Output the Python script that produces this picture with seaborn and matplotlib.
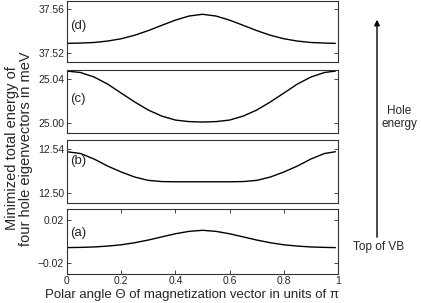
import seaborn as sns
import matplotlib.pyplot as plt
import pandas as pd

# polar angle in units of pi
theta = [0.00, 0.05, 0.10, 0.15, 0.20, 0.25, 0.30, 0.35, 0.40, 0.45, 0.50,
         0.55, 0.60, 0.65, 0.70, 0.75, 0.80, 0.85, 0.90, 0.95, 0.99]

# minimized total energies (meV)
e_a = [-0.0055, -0.0053, -0.0049, -0.0041, -0.0029, -0.0010, 0.0015, 0.0044, 0.0073, 0.0095, 0.0105,
       0.0095, 0.0073, 0.0044, 0.0015, -0.0010, -0.0029, -0.0041, -0.0049, -0.0053, -0.0055]
e_b = [12.5378, 12.5362, 12.5312, 12.5248, 12.5194, 12.5148, 12.5118, 12.5107, 12.5105, 12.5105, 12.5105,
       12.5105, 12.5105, 12.5107, 12.5118, 12.5148, 12.5194, 12.5248, 12.5312, 12.5362, 12.5378]
e_c = [25.0475, 25.0462, 25.0421, 25.0357, 25.0275, 25.0194, 25.0121, 25.0066, 25.0030, 25.0016, 25.0012,
       25.0016, 25.0030, 25.0066, 25.0121, 25.0194, 25.0275, 25.0357, 25.0421, 25.0462, 25.0475]
e_d = [37.5291, 37.5294, 37.5299, 37.5312, 37.5333, 37.5365, 37.5407, 37.5455, 37.5502, 37.5539, 37.5555,
       37.5539, 37.5502, 37.5455, 37.5407, 37.5365, 37.5333, 37.5312, 37.5299, 37.5294, 37.5291]

panel_labels = ["(a)", "(b)", "(c)", "(d)"]
yticks = [[-0.02, 0.02], [12.50, 12.54], [25.00, 25.04], [37.52, 37.56]]
ytick_labels = [["\u22120.02", "0.02"], ["12.50", "12.54"], ["25.00", "25.04"], ["37.52", "37.56"]]
ylims = [(-0.0299, 0.0299), (12.4915, 12.5482), (24.9915, 25.0482), (37.5121, 37.5675)]
xticks = [0, 0.2, 0.4, 0.6, 0.8, 1]
xtick_labels = ["0", "0.2", "0.4", "0.6", "0.8", "1"]

sns.set_style("white")
plt.rcParams["font.family"] = ["Liberation Sans", "DejaVu Sans"]

fig = plt.figure(figsize=(4.21, 3.03), dpi=100)

# axes boxes (left, bottom, width, height) in figure fraction
boxes = [(0.159, 0.0957, 0.644, 0.2135),
         (0.159, 0.331, 0.644, 0.206),
         (0.159, 0.562, 0.644, 0.206),
         (0.159, 0.795, 0.644, 0.2015)]
label_y = [0.63, 0.67, 0.54, 0.59]

series = [e_a, e_b, e_c, e_d]
for i, (box, vals) in enumerate(zip(boxes, series)):
    ax = fig.add_axes(box)
    df = pd.DataFrame({"theta": theta, "E": vals})
    sns.lineplot(data=df, x="theta", y="E", ax=ax, color="black", linewidth=1.0)
    ax.set_xlim(0, 1)
    ax.set_ylim(*ylims[i])
    ax.set_yticks(yticks[i])
    ax.set_yticklabels(ytick_labels[i], fontsize=7.5)
    ax.set_xlabel("")
    ax.set_ylabel("")
    ax.tick_params(axis="y", direction="in", length=3, width=0.6, right=True, left=True, pad=2)
    if i == 0:
        ax.set_xticks(xticks)
        ax.set_xticklabels(xtick_labels, fontsize=7.5)
        ax.tick_params(axis="x", direction="in", length=3, width=0.6, top=True, bottom=True, pad=1.5)
    else:
        ax.set_xticks([])
    for sp in ax.spines.values():
        sp.set_visible(True)
        sp.set_color("#333333")
        sp.set_linewidth(0.8)
    ax.text(0.012, label_y[i], panel_labels[i], transform=ax.transAxes,
            fontsize=9.5, va="center", ha="left")

fig.text(0.457, 0.008, "Polar angle \u0398 of magnetization vector in units of \u03c0",
         ha="center", va="bottom", fontsize=9.5)
fig.text(0.045, 0.51, "Minimized total energy of\nfour hole eigenvectors in meV",
         ha="center", va="center", rotation=90, fontsize=10.5, linespacing=1.05)

# energy arrow on the right
fig.add_artist(plt.Annotation("", xy=(0.8955, 0.944), xytext=(0.8955, 0.208),
                              xycoords="figure fraction", textcoords="figure fraction",
                              arrowprops=dict(arrowstyle="-|>", color="black", lw=1.0,
                                              mutation_scale=8)))
fig.text(0.948, 0.611, "Hole\nenergy", ha="center", va="center", fontsize=8.5,
         linespacing=1.1, bbox=dict(facecolor="white", edgecolor="none", pad=0.5))
fig.text(0.900, 0.185, "Top of VB", ha="center", va="center", fontsize=8.5)

fig.savefig("out.png", dpi=100)
